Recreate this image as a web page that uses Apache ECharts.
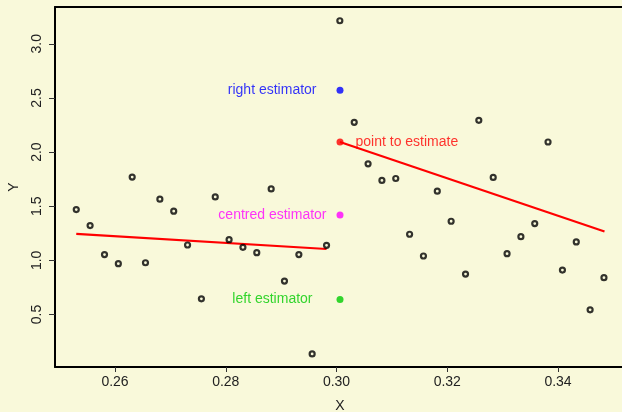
<!DOCTYPE html>
<html><head><meta charset="utf-8">
<script src="https://cdn.jsdelivr.net/npm/echarts@6/dist/echarts.min.js"></script>
<style>html,body{margin:0;padding:0;background:#f9f9da}#c{width:622px;height:412px}</style>
</head><body><div id="c"></div>
<script>
const obsX = [0.2530, 0.2555, 0.2581, 0.2606, 0.2631, 0.2655, 0.2681, 0.2706, 0.2731, 0.2756,
  0.2781, 0.2806, 0.2831, 0.2856, 0.2882, 0.2906, 0.2932, 0.2956, 0.2982, 0.3006,
  0.3032, 0.3057, 0.3082, 0.3107, 0.3132, 0.3157, 0.3182, 0.3207, 0.3233, 0.3257,
  0.3283, 0.3308, 0.3333, 0.3358, 0.3382, 0.3408, 0.3433, 0.3458, 0.3483];
const obsY = [1.469, 1.321, 1.053, 0.969, 1.769, 0.978, 1.565, 1.454, 1.142, 0.645,
  1.586, 1.191, 1.120, 1.071, 1.660, 0.809, 1.053, 0.136, 1.139, 3.213,
  2.275, 1.892, 1.738, 1.756, 1.241, 1.040, 1.639, 1.361, 0.873, 2.293,
  1.766, 1.062, 1.219, 1.340, 2.093, 0.910, 1.170, 0.543, 0.840];
const estX = 0.30063;
const estNames = ['right estimator', 'point to estimate', 'centred estimator', 'left estimator'];
const estY = [2.571, 2.093, 1.420, 0.639];
const estColors = ['#0000ff', '#ff0000', '#ff00ff', '#00cc00'];
const leftFitX = [0.2530, 0.2982];
const leftFitY = [1.244, 1.105];
const rightFitX = [0.30063, 0.3484];
const rightFitY = [2.093, 1.266];
const xTicks = [0.26, 0.28, 0.30, 0.32, 0.34];
const yTicks = [0.5, 1.0, 1.5, 2.0, 2.5, 3.0];

const FONT = 'Liberation Sans, Arial, sans-serif';
const chart = echarts.init(document.getElementById('c'));
const labelCfg = [
  {position: 'left', distance: 20},
  {position: 'right', distance: 12},
  {position: 'left', distance: 10},
  {position: 'left', distance: 24}
];
const estSeries = estNames.map((n, i) => ({
  type: 'scatter', name: n, symbol: 'circle', symbolSize: 7,
  itemStyle: {color: estColors[i]},
  data: [[estX, estY[i]]],
  label: {show: true, formatter: n, color: estColors[i], fontSize: 14, fontFamily: FONT,
    position: labelCfg[i].position, distance: labelCfg[i].distance},
  z: 5
}));
chart.setOption({
  backgroundColor: '#f9f9da',
  animation: false,
  grid: {left: 55, right: -3, top: 7, bottom: 45, show: false, containLabel: false, outerBoundsMode: 'none'},
  xAxis: [{
    type: 'value', min: 0.24916, max: 0.3521, position: 'bottom',
    axisLine: {show: true, onZero: false, lineStyle: {color: '#000', width: 2}},
    axisTick: {show: true, length: 5, customValues: xTicks, lineStyle: {color: '#333', width: 1}},
    axisLabel: {customValues: xTicks, formatter: v => v.toFixed(2), color: '#222', fontSize: 14, fontFamily: FONT, margin: 8},
    splitLine: {show: false},
    name: 'X', nameLocation: 'middle', nameGap: 32,
    nameTextStyle: {color: '#222', fontSize: 14, fontFamily: FONT}
  }, {
    type: 'value', min: 0.24916, max: 0.3521, position: 'top',
    axisLine: {show: true, onZero: false, lineStyle: {color: '#000', width: 2}},
    axisTick: {show: false}, axisLabel: {show: false}, splitLine: {show: false}
  }],
  yAxis: {
    type: 'value', min: 0.015, max: 3.34,
    axisLine: {show: true, onZero: false, lineStyle: {color: '#000', width: 2}},
    axisTick: {show: true, length: 6, customValues: yTicks, lineStyle: {color: '#333', width: 1}},
    axisLabel: {customValues: yTicks, formatter: v => v.toFixed(1), rotate: 90, color: '#222', fontSize: 14, fontFamily: FONT, margin: 11},
    splitLine: {show: false},
    name: 'Y', nameLocation: 'middle', nameGap: 34, nameRotate: 90,
    nameTextStyle: {color: '#222', fontSize: 14, fontFamily: FONT}
  },
  series: [
    {type: 'scatter', symbol: 'circle', symbolSize: 5,
      itemStyle: {color: 'rgba(0,0,0,0)', borderColor: '#000', borderWidth: 2.2},
      data: obsX.map((x, i) => [x, obsY[i]]), z: 3},
    {type: 'line', symbol: 'none', lineStyle: {color: '#ff0000', width: 2.2},
      data: leftFitX.map((x, i) => [x, leftFitY[i]]), z: 2},
    {type: 'line', symbol: 'none', lineStyle: {color: '#ff0000', width: 2.2},
      data: rightFitX.map((x, i) => [x, rightFitY[i]]), z: 2},
    ...estSeries
  ]
});
</script></body></html>
